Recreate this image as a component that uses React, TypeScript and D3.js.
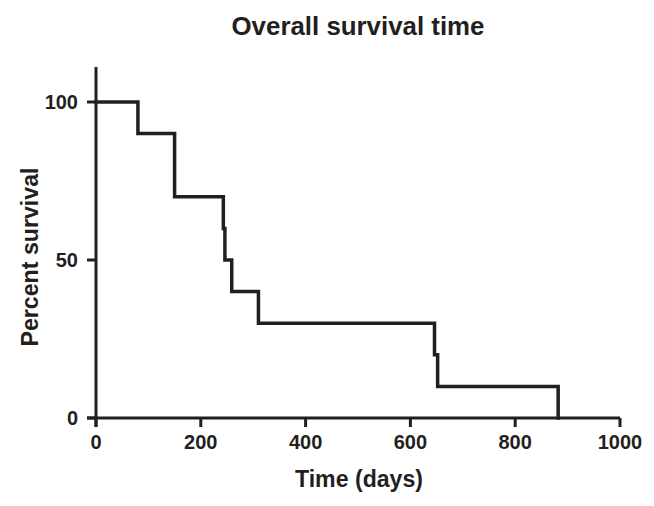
import React from "react";
import * as d3 from "d3";

const eventDays = [0, 80, 150, 243, 246, 259, 310, 646, 652, 882];
const survivalPct = [100, 90, 70, 60, 50, 40, 30, 20, 10, 0];
const xTicks = [0, 200, 400, 600, 800, 1000];
const yTicks = [0, 50, 100];
const title = "Overall survival time";
const xTitle = "Time (days)";
const yTitle = "Percent survival";

const W = 654;
const H = 506;
const FONT = "'Liberation Sans', Arial, Helvetica, sans-serif";
const INK = "#231f20";

export default function App() {
  const x = d3.scaleLinear().domain([0, 1000]).range([96, 620]);
  const y = d3.scaleLinear().domain([0, 100]).range([418, 102]);
  const pts: [number, number][] = eventDays.map((d, i) => [d, survivalPct[i]]);
  const line = d3
    .line<[number, number]>()
    .x((d) => x(d[0]))
    .y((d) => y(d[1]))
    .curve(d3.curveStepAfter);

  const x0 = x(0);
  const y0 = y(0);
  const tickLen = 9;

  return (
    <svg
      width={W}
      height={H}
      style={{ position: "absolute", left: 0, top: 0, background: "#fff" }}
      fontFamily={FONT}
    >
      <text
        x={358}
        y={35}
        textAnchor="middle"
        fontSize={25}
        fontWeight="bold"
        fill={INK}
        textLength={253}
        lengthAdjust="spacingAndGlyphs"
      >
        {title}
      </text>

      {/* axes */}
      <line x1={x0} x2={x0} y1={67} y2={y0 + tickLen} stroke={INK} strokeWidth={3} />
      <line x1={x0 - tickLen} x2={x(1000)} y1={y0} y2={y0} stroke={INK} strokeWidth={3} />

      {xTicks.map((t) => (
        <g key={"x" + t}>
          <line x1={x(t)} x2={x(t)} y1={y0} y2={y0 + tickLen} stroke={INK} strokeWidth={3} />
          <text
            x={x(t)}
            y={449}
            textAnchor="middle"
            fontSize={20}
            fontWeight="bold"
            fill={INK}
          >
            {t}
          </text>
        </g>
      ))}

      {yTicks.map((t) => (
        <g key={"y" + t}>
          <line x1={x0 - tickLen} x2={x0} y1={y(t)} y2={y(t)} stroke={INK} strokeWidth={3} />
          <text
            x={78}
            y={y(t) + 7}
            textAnchor="end"
            fontSize={20}
            fontWeight="bold"
            fill={INK}
          >
            {t}
          </text>
        </g>
      ))}

      <path d={line(pts) || ""} fill="none" stroke={INK} strokeWidth={3.5} strokeLinejoin="miter" strokeLinecap="square" />

      <text
        x={359}
        y={487}
        textAnchor="middle"
        fontSize={23}
        fontWeight="bold"
        fill={INK}
        textLength={128}
        lengthAdjust="spacingAndGlyphs"
      >
        {xTitle}
      </text>
      <text
        transform={`translate(38, 257) rotate(-90)`}
        textAnchor="middle"
        fontSize={23}
        fontWeight="bold"
        fill={INK}
        textLength={179}
        lengthAdjust="spacingAndGlyphs"
      >
        {yTitle}
      </text>
    </svg>
  );
}
